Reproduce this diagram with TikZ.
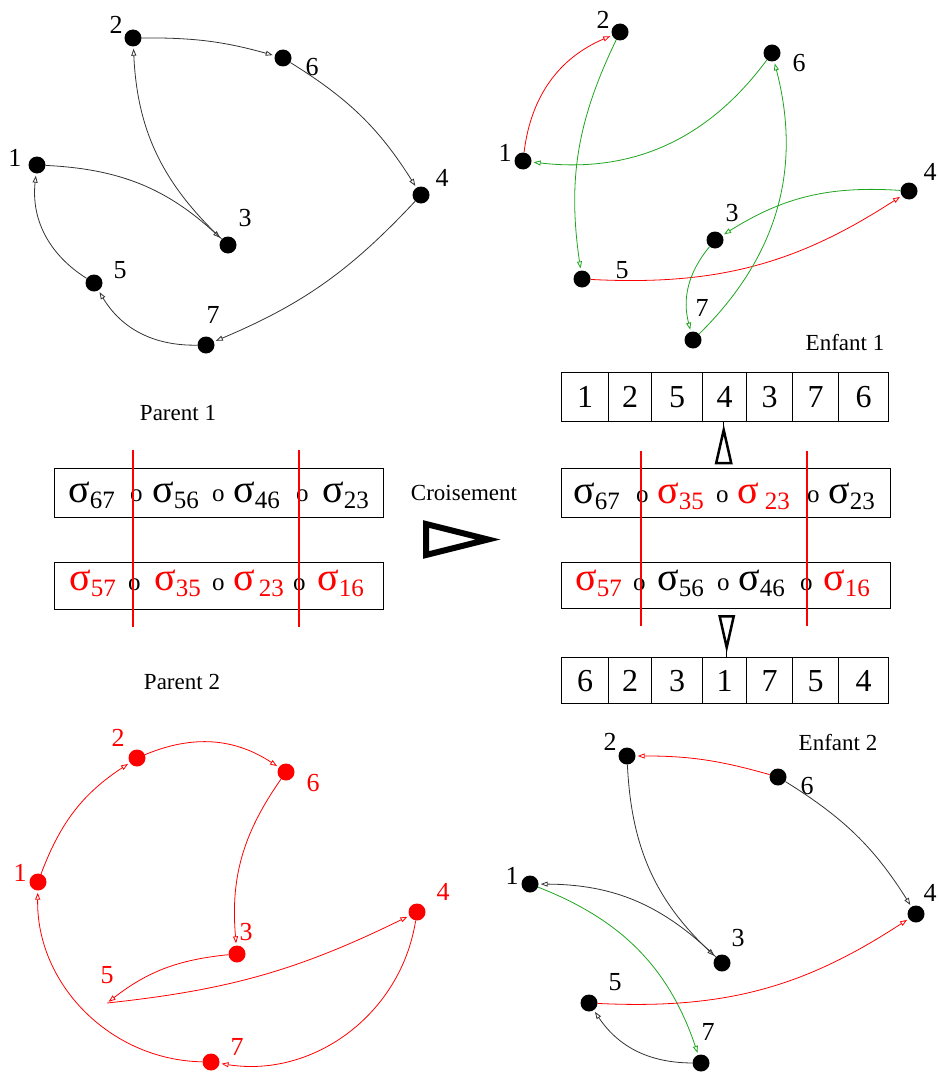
\documentclass[tikz,border=0pt]{standalone}
\usepackage{fontspec}
\setmainfont{Liberation Serif}
\usetikzlibrary{arrows.meta}
\definecolor{grn}{RGB}{30,165,30}
\definecolor{rd}{RGB}{255,0,0}
\newcommand\sg[2]{\textcolor{#1}{\fontsize{40}{40}\selectfont σ\fontsize{25}{25}\selectfont\raisebox{-6pt}{#2}}}
\begin{document}
\begin{tikzpicture}[x=1pt,y=-1pt,
  dot/.style={circle,fill=black,minimum size=17pt,inner sep=0pt},
  rdot/.style={dot,fill=rd},
  lbl/.style={inner sep=0pt,font=\fontsize{26}{26}\selectfont},
  rlbl/.style={lbl,text=rd},
  ttl/.style={inner sep=0pt,font=\fontsize{23}{23}\selectfont},
  arc/.style={line width=0.8pt,-{Triangle[open,length=7pt,width=5pt]},shorten >=2pt},
  blkarc/.style={arc,draw=black!80},
  redarc/.style={arc,draw=rd},
  grnarc/.style={arc,draw=grn},
  tok/.style={anchor=base west,inner sep=0pt},
  otok/.style={tok,font=\fontsize{25}{25}\selectfont},
  rowbox/.style={draw,line width=1.4pt,anchor=north west,minimum width=329pt,minimum height=49pt,inner sep=0pt},
  cell/.style={draw,line width=1.4pt,anchor=north west,inner sep=0pt,font=\fontsize{32}{32}\selectfont},
  cut/.style={draw=rd,line width=1.5pt},
  bigtri/.style={draw,line width=6pt,line join=miter},
  smalltri/.style={draw,line width=2.5pt,line join=miter}
]
\useasboundingbox (0,0) rectangle (938,1073);

% ---------- Parent 1 graph (top left)
\node[dot] (a1) at (37,165) {};
\node[dot] (a2) at (133,38) {};
\node[dot] (a3) at (228,245) {};
\node[dot] (a4) at (421,195) {};
\node[dot] (a5) at (94,283) {};
\node[dot] (a6) at (283,58) {};
\node[dot] (a7) at (206,345) {};
\node[lbl] (la1) at (15,158) {1};
\node[lbl] (la2) at (116,25) {2};
\node[lbl] (la3) at (245,218) {3};
\node[lbl] (la4) at (442,178) {4};
\node[lbl] (la5) at (120,270) {5};
\node[lbl] (la6) at (312,67) {6};
\node[lbl] (la7) at (213,315) {7};
\draw[blkarc] (a1) to[bend left=20] (a3);
\draw[blkarc] (a3) to[bend left=22] (a2);
\draw[blkarc] (a2) to[bend left=8] (a6);
\draw[blkarc] (a6) to[bend left=13] (a4);
\draw[blkarc] (a4) to[bend left=12] (a7);
\draw[blkarc] (a7) to[bend left=30] (a5);
\draw[blkarc] (a5) to[bend left=32] (a1);

% ---------- Enfant 1 graph (top right)
\node[dot] (b1) at (523,161) {};
\node[dot] (b2) at (620,32) {};
\node[dot] (b3) at (715,240) {};
\node[dot] (b4) at (909,191) {};
\node[dot] (b5) at (582,279) {};
\node[dot] (b6) at (772,53) {};
\node[dot] (b7) at (693,340) {};
\node[lbl] (lb1) at (505,153) {1};
\node[lbl] (lb2) at (603,20) {2};
\node[lbl] (lb3) at (732,213) {3};
\node[lbl] (lb4) at (930,172) {4};
\node[lbl] (lb5) at (622,270) {5};
\node[lbl] (lb6) at (799,63) {6};
\node[lbl] (lb7) at (702,308) {7};
\draw[redarc] (b1) to[bend left=30] (b2);
\draw[grnarc] (b2) to[bend right=17] (b5);
\draw[redarc] (b5) to[bend right=18] (b4);
\draw[grnarc] (b4) to[bend right=18] (b3);
\draw[grnarc] (b3) to[bend right=27] (b7);
\draw[grnarc] (b7) to[bend right=30] (b6);
\draw[grnarc] (b6) to[bend left=30] (b1);
\node[ttl] (e1) at (845,343) {Enfant 1};

% ---------- Parent boxes
\node[ttl] (p1) at (178,413) {Parent 1};
\node[ttl] (p2) at (182,682) {Parent 2};
\node[rowbox] (pbox1) at (54,468) {};
\node[rowbox,minimum height=47pt] (pbox2) at (54,562) {};
\foreach \x/\s [count=\i] in {68/67,152/56,233/46,322/23}
  \node[tok] (pas\i) at (\x,502) {\sg{black}{\s}};
\foreach \x [count=\i] in {130,212,296}
  \node[otok] (pao\i) at (\x,501) {o};
\foreach \x/\s [count=\i] in {69/57,154/35,233/\hspace{4pt}23,317/16}
  \node[tok] (pbs\i) at (\x,590) {\sg{rd}{\s}};
\foreach \x [count=\i] in {128,212,293}
  \node[otok] (pbo\i) at (\x,590) {o};
\draw[cut] (133,450) -- (133,627);
\draw[cut] (299,450) -- (299,627);

% ---------- Croisement
\node[ttl] (cr) at (464,493) {Croisement};
\draw[bigtri] (426,524) -- (488,539.5) -- (426,555) -- cycle;

% ---------- Child boxes
\node[rowbox] (cbox1) at (561,468) {};
\node[rowbox,minimum height=46pt] (cbox2) at (561,562) {};
\foreach \x/\c/\s [count=\i] in {573/black/67,657/rd/35,737/rd/\hspace{6pt}23,828/black/23}
  \node[tok] (cas\i) at (\x,503) {\sg{\c}{\s}};
\foreach \x [count=\i] in {636,716,807}
  \node[otok] (cao\i) at (\x,502) {o};
\foreach \x/\c/\s [count=\i] in {575/rd/57,657/black/56,738/black/46,823/rd/16}
  \node[tok] (cbs\i) at (\x,590) {\sg{\c}{\s}};
\foreach \x [count=\i] in {633,717,800}
  \node[otok] (cbo\i) at (\x,590) {o};
\draw[cut] (641,451) -- (641,626);
\draw[cut] (807,451) -- (807,626);

% ---------- number boxes
\foreach \a/\b/\n [count=\i] in {561/608/1,608/651/2,651/702/5,702/746/4,746/792/3,792/838/7,838/888/6}
  \node[cell,minimum width={\b-\a},minimum height=49pt] (ta\i) at (\a,372) {\n};
\foreach \a/\b/\n [count=\i] in {561/608/6,608/651/2,651/702/3,702/746/1,746/792/7,792/838/5,838/888/4}
  \node[cell,minimum width={\b-\a},minimum height=46pt] (tb\i) at (\a,657) {\n};

% up arrow
\coordinate (ub) at ([xshift=-2.5pt]cbox1.north);
\draw[line width=0.8pt] ([yshift=38pt]ub) -- (ub |- ta4.south);
\draw[smalltri] ([xshift=-7.5pt,yshift=5pt]ub) -- ([yshift=38pt]ub) -- ([xshift=7.5pt,yshift=5pt]ub) -- cycle;
% down arrow
\coordinate (db) at ([xshift=0.5pt]cbox2.south);
\draw[line width=0.8pt] ([yshift=-38pt]db) -- (db |- tb4.north);
\draw[smalltri] ([xshift=-7pt,yshift=-7pt]db) -- ([yshift=-38pt]db) -- ([xshift=7pt,yshift=-7pt]db) -- cycle;

% ---------- Parent 2 graph (bottom left)
\node[rdot] (c1) at (38,882) {};
\node[rdot] (c2) at (137,758) {};
\node[rdot] (c3) at (237,954) {};
\node[rdot] (c4) at (417,912) {};
\coordinate (c5) at (107,1003);
\node[rdot] (c6) at (286,772) {};
\node[rdot] (c7) at (211,1062) {};
\node[rlbl] (lc1) at (20,873) {1};
\node[rlbl] (lc2) at (118,738) {2};
\node[rlbl] (lc3) at (246,932) {3};
\node[rlbl] (lc4) at (443,892) {4};
\node[rlbl] (lc5) at (107,975) {5};
\node[rlbl] (lc6) at (313,783) {6};
\node[rlbl] (lc7) at (237,1047) {7};
\draw[redarc] (c1) to[bend left=18] (c2);
\draw[redarc] (c2) to[bend left=28] (c6);
\draw[redarc] (c6) to[bend right=20] (c3);
\draw[redarc] (c3) to[bend right=16] (c5);
\draw[redarc] (c5) to[bend right=10] (c4);
\draw[redarc] (c4) to[bend left=45] (c7);
\draw[redarc] (c7) to[bend left=45] (c1);

% ---------- Enfant 2 graph (bottom right)
\node[dot] (d1) at (530,884) {};
\node[dot] (d2) at (627,756) {};
\node[dot] (d3) at (722,963) {};
\node[dot] (d4) at (916,914) {};
\node[dot] (d5) at (589,1003) {};
\node[dot] (d6) at (778,777) {};
\node[dot] (d7) at (701,1063) {};
\node[lbl] (ld1) at (512,876) {1};
\node[lbl] (ld2) at (610,742) {2};
\node[lbl] (ld3) at (738,938) {3};
\node[lbl] (ld4) at (930,893) {4};
\node[lbl] (ld5) at (615,982) {5};
\node[lbl] (ld6) at (807,786) {6};
\node[lbl] (ld7) at (708,1032) {7};
\draw[redarc] (d6) to[bend right=8] (d2);
\draw[blkarc] (d2) to[bend right=22] (d3);
\draw[blkarc] (d3) to[bend right=22] (d1);
\draw[grnarc] (d1) to[bend left=25] (d7);
\draw[blkarc] (d7) to[bend left=28] (d5);
\draw[redarc] (d5) to[bend right=18] (d4);
\draw[blkarc] (d6) to[bend left=13] (d4);
\node[ttl] (e2) at (838,743) {Enfant 2};
\end{tikzpicture}
\end{document}
